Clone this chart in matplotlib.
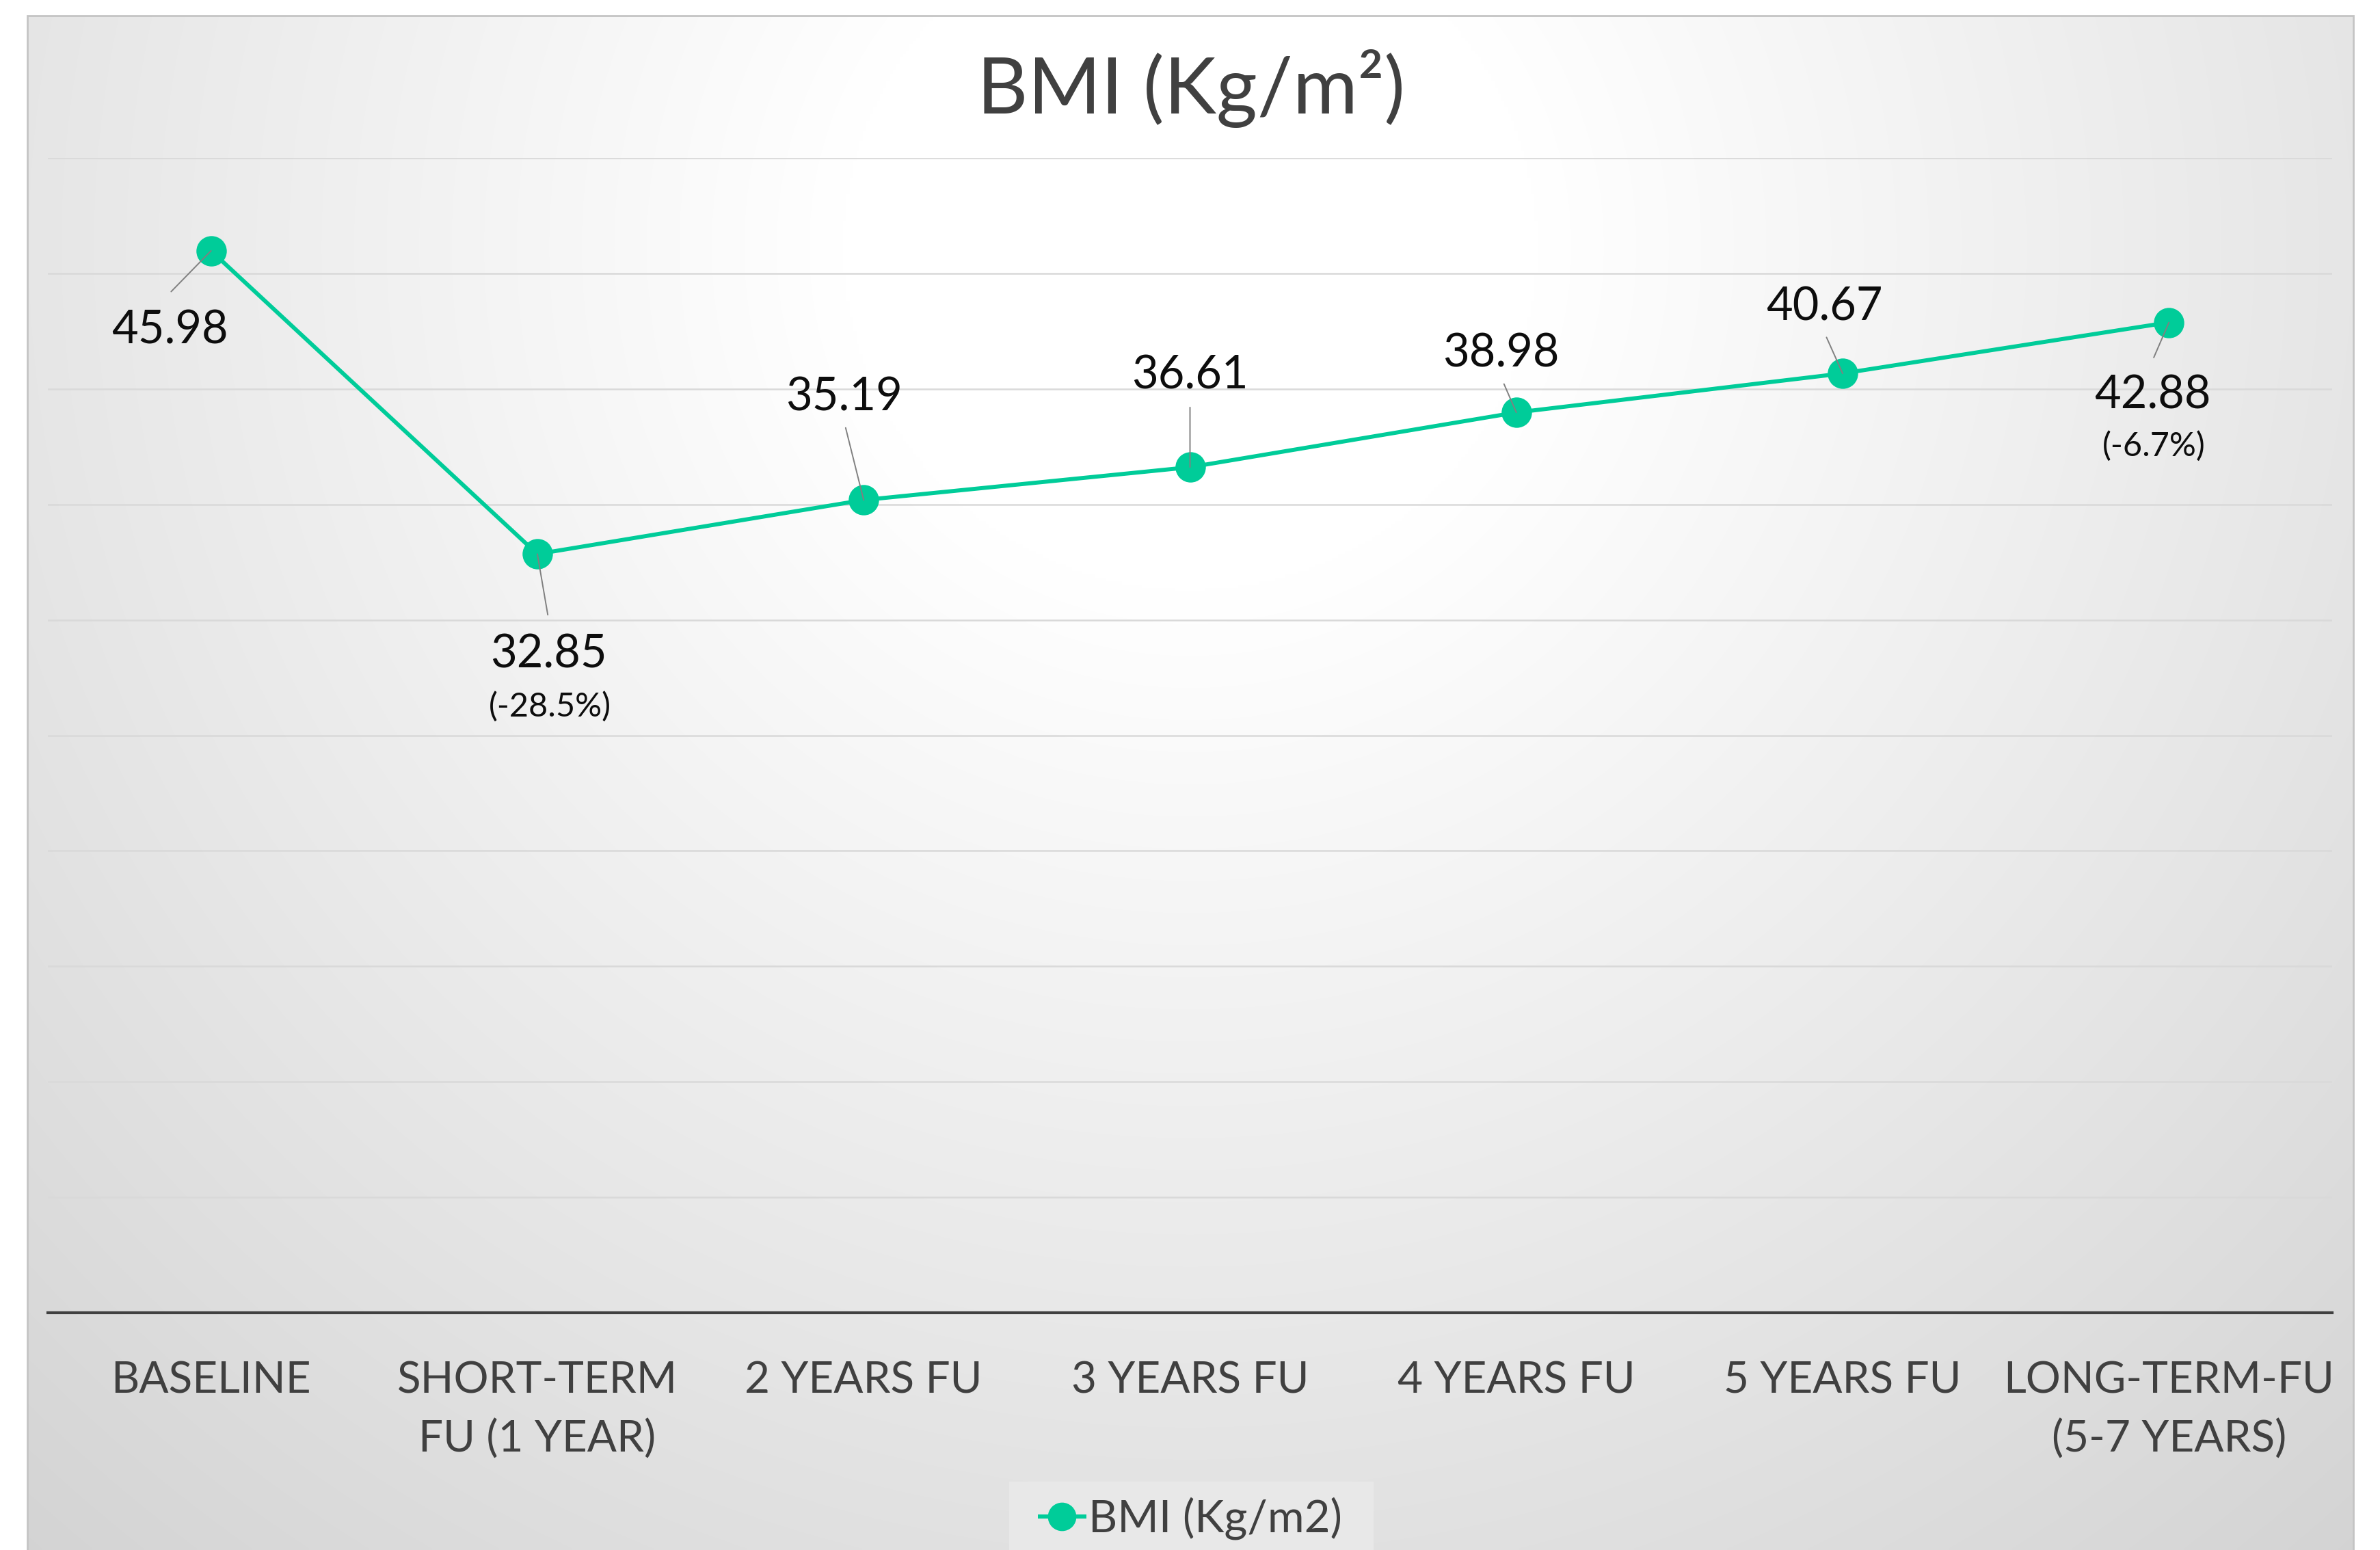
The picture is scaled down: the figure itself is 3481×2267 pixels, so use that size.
import numpy as np
import matplotlib
matplotlib.use("Agg")
import matplotlib.pyplot as plt
from matplotlib.patches import Rectangle
from matplotlib.lines import Line2D

plt.rcParams['font.family'] = ['Lato', 'DejaVu Sans']

# ---------------- data ----------------
categories = ["BASELINE", "SHORT-TERM\nFU (1 YEAR)", "2 YEARS FU", "3 YEARS FU",
              "4 YEARS FU", "5 YEARS FU", "LONG-TERM-FU\n(5-7 YEARS)"]
bmi_values = [45.98, 32.85, 35.19, 36.61, 38.98, 40.67, 42.88]
pct_labels = [None, "(-28.5%)", None, None, None, None, "(-6.7%)"]
series_name = "BMI (Kg/m2)"
title_text = "BMI (Kg/m²)"

# label placement (offset points from the data point) -- style only
label_offsets = [(-43, -98), (12, -120), (-21, 94), (0, 83), (-16, 48), (-19, 56), (-17, -91)]
pct_offsets = [None, (13, -171), None, None, None, None, (-16, -141)]
leader_ends = [(-42, -43), (11, -64), (-19, 76), (0, 63), (-13, 30), (-17, 38), (-16, -37)]

W, H = 3481, 2267
fig = plt.figure(figsize=(W / 100, H / 100), dpi=100)
fig.patch.set_facecolor("white")

# ---------------- panel background (radial gradient) ----------------
px0, px1, py0 = 40, 3442, 23
bg = fig.add_axes([px0 / W, 0, (px1 - px0) / W, (H - py0) / H])
bg.set_axis_off()
gx = np.linspace(0, 1, 700)
gy = np.linspace(0, 1, 460)
X, Y = np.meshgrid(gx, gy)
d = np.sqrt(((X - 0.5) / 0.5) ** 2 + ((Y - 0.15) / 0.75) ** 2)
t = np.clip((d - 0.3) / 0.7, 0, None)
g = (255 - 25 * t) / 255.0
img = np.dstack([g, g, g])
bg.imshow(img, extent=[0, 1, 1, 0], aspect="auto", interpolation="bilinear")
bg.set_xlim(0, 1)
bg.set_ylim(1, 0)

fig.patches.append(Rectangle((px0 / W, -0.02), (px1 - px0) / W, (H - py0) / H + 0.02,
                             transform=fig.transFigure, fill=False,
                             edgecolor="#c4c4c4", linewidth=2.0, zorder=5))

# legend box
fig.patches.append(Rectangle((1476 / W, -0.02), 533 / W, 100 / H + 0.02,
                             transform=fig.transFigure, facecolor="#e8e8e8",
                             edgecolor="none", zorder=1))

# ---------------- main axes ----------------
ax = fig.add_axes([70 / W, 1 - 1920 / H, 3341 / W, 1689 / H])
ax.set_facecolor("none")
x = np.arange(len(categories))
ax.set_xlim(-0.5, len(categories) - 0.5)
ax.set_ylim(0, 50)
ax.set_yticks(np.arange(0, 51, 5))
ax.yaxis.grid(True, color="#d9d9d9", linewidth=1.8)
ax.set_axisbelow(True)
ax.tick_params(axis="y", left=False, labelleft=False)
for s in ("top", "left", "right"):
    ax.spines[s].set_visible(False)
ax.spines["bottom"].set_color("#404040")
ax.spines["bottom"].set_linewidth(3.0)
ax.spines["bottom"].set_zorder(2.5)

ax.set_xticks(x)
ax.set_xticklabels(categories, fontsize=46, color="#404040", linespacing=1.56)
ax.tick_params(axis="x", length=0, pad=51)

line, = ax.plot(x, bmi_values, color="#00CC99", linewidth=4.3, marker="o",
                markersize=32, markeredgewidth=0, zorder=3, clip_on=False)

for i, v in enumerate(bmi_values):
    lx, ly = leader_ends[i]
    ax.annotate("", xy=(x[i], v), xytext=(lx, ly), textcoords="offset points",
                arrowprops=dict(arrowstyle="-", color="#808080", linewidth=1.4,
                                shrinkA=0, shrinkB=0), zorder=4)
    dx, dy = label_offsets[i]
    ax.annotate(f"{v:.2f}", xy=(x[i], v), xytext=(dx, dy), textcoords="offset points",
                ha="center", va="baseline", fontsize=48, color="#0d0d0d", zorder=5)
    if pct_labels[i]:
        px, py = pct_offsets[i]
        ax.annotate(pct_labels[i], xy=(x[i], v), xytext=(px, py), textcoords="offset points",
                    ha="center", va="baseline", fontsize=35, color="#0d0d0d", zorder=5)

# title
fig.text(1742 / W, 1 - 166 / H, title_text, ha="center", va="baseline",
         fontsize=83, color="#404040")

# legend
handle = Line2D([], [], color="#00CC99", linewidth=4.3, marker="o", markersize=30,
                markeredgewidth=0)
fig.legend(handles=[handle], labels=[series_name], loc="center",
           bbox_to_anchor=(1742 / W, 1 - 2221 / H), frameon=False, fontsize=47,
           handlelength=1.0, handletextpad=0.1, labelcolor="#404040", borderpad=0)

fig.savefig("out.png", dpi=100)
